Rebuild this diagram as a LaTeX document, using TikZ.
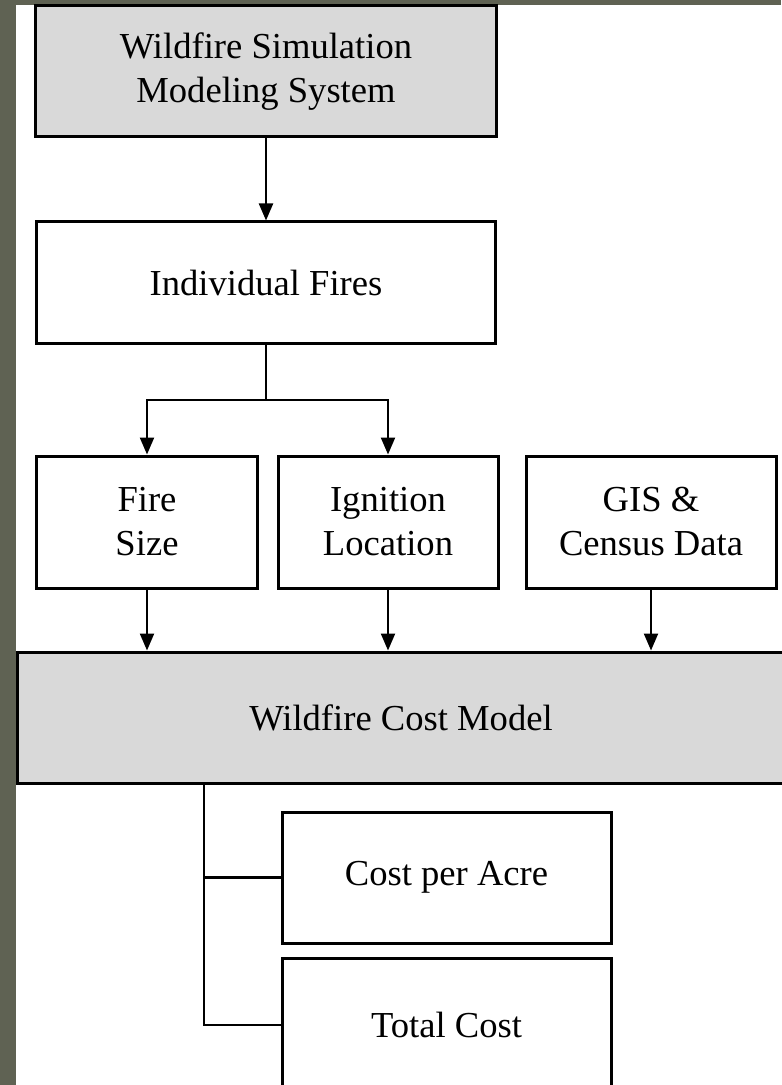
\documentclass[tikz,border=0pt]{standalone}
\usepackage{fontspec}
\setmainfont{Liberation Serif}
\usetikzlibrary{arrows.meta}
\definecolor{slidebg}{HTML}{5F6253}
\definecolor{boxgrey}{HTML}{D9D9D9}

\begin{document}
\begin{tikzpicture}[x=0.5pt, y=-0.5pt,
    box/.style={draw, line width=1.5pt, align=center, inner sep=0pt, font=\fontsize{18.3}{22}\selectfont},
    shaded/.style={box, fill=boxgrey},
    link/.style={line width=1.1pt},
    arrow/.style={link, -{Triangle[width=7pt, length=8.5pt]}}]
    \useasboundingbox (0,0) rectangle (781,1085);
    \fill[slidebg] (0,0) rectangle (781,1085);
    \fill[white] (16,5) rectangle (781,1085);

    \node[shaded, minimum width=230.5pt, minimum height=65.5pt] (sim) at (266,71.5) {Wildfire Simulation\\Modeling System};
    \node[box, minimum width=229.5pt, minimum height=60.5pt] (fires) at (266,282.5) {Individual Fires};
    \node[box, minimum width=110.5pt, minimum height=66pt] (size) at (147,522) {Fire\\Size};
    \node[box, minimum width=110pt, minimum height=66pt] (ign) at (388,522) {Ignition\\Location};
    \node[box, minimum width=125pt, minimum height=66pt] (gis) at (651,522) {GIS \&\\Census Data};
    \node[shaded, minimum width=384pt, minimum height=65.5pt] (cost) at (401,717.5) {Wildfire Cost Model};
    \node[box, minimum width=164.5pt, minimum height=65.5pt] (acre) at (446.5,877.5) {Cost per Acre};
    \node[box, minimum width=164.5pt, minimum height=67pt] (total) at (446.5,1025) {Total Cost};

    \coordinate (split) at (266,400);
    \coordinate (trunk) at (204,783);

    \draw[arrow] (sim.south) -- (fires.north);
    \draw[link] (fires.south) -- (split);
    \draw[arrow] (split) -| (size.north);
    \draw[arrow] (split) -| (ign.north);
    \draw[arrow] (size.south) -- (size.south |- cost.north);
    \draw[arrow] (ign.south) -- (ign.south |- cost.north);
    \draw[arrow] (gis.south) -- (gis.south |- cost.north);
    \draw[link] (trunk) |- (acre.west);
    \draw[link] (trunk) |- (total.west);
\end{tikzpicture}
\end{document}
